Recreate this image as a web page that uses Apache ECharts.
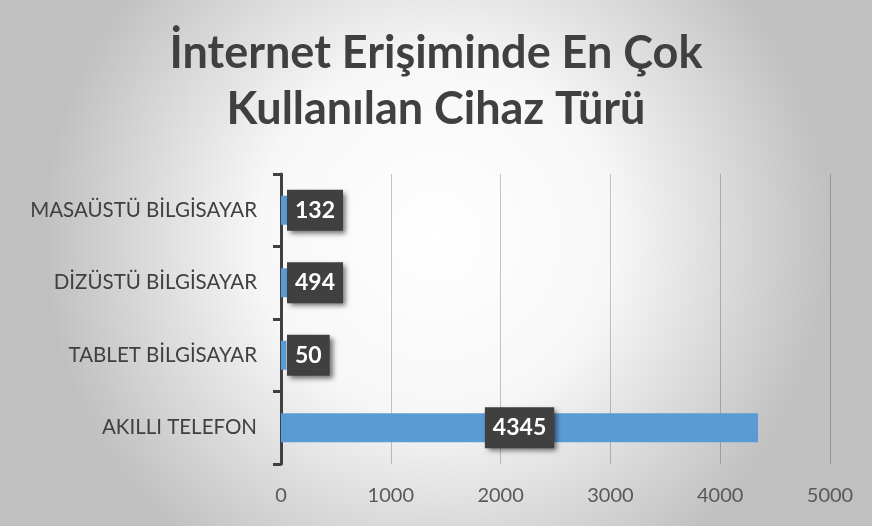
<!DOCTYPE html>
<html>
<head>
<meta charset="utf-8">
<script src="https://cdn.jsdelivr.net/npm/echarts@6/dist/echarts.min.js"></script>
<style>
  html, body { margin: 0; padding: 0; }
  #chart { width: 872px; height: 526px; }
</style>
</head>
<body>
<div id="chart"></div>
<script>
// data, bottom to top as drawn
var categories = ["AKILLI TELEFON", "TABLET BİLGİSAYAR", "DİZÜSTÜ BİLGİSAYAR", "MASAÜSTÜ BİLGİSAYAR"]
var values = [4345, 50, 494, 132]
var xTicks = [0, 1000, 2000, 3000, 4000, 5000]

var fontFam = "Lato, 'Open Sans', sans-serif"

function barData() {
    return values.map(function (v) {
        // small bars get their label at the base, the long one in the middle
        return {
            value: v,
            label: { position: v > 1000 ? "inside" : "insideLeft", distance: 6 }
        }
    })
}

var chart = echarts.init(document.getElementById("chart"))

chart.setOption({
    backgroundColor: {
        type: "radial", x: 0.5, y: 0.45, r: 0.75,
        colorStops: [
            { offset: 0, color: "#ffffff" },
            { offset: 0.45, color: "#f7f7f7" },
            { offset: 1, color: "#c0c0c0" }
        ]
    },
    title: {
        text: "İnternet Erişiminde En Çok\nKullanılan Cihaz Türü",
        left: "center",
        top: 20,
        padding: [5, 5, 5, 21],
        textStyle: {
            fontFamily: fontFam,
            fontSize: 45,
            fontWeight: "bold",
            color: "#404040",
            lineHeight: 56
        }
    },
    grid: { left: 281, right: 42, top: 174, bottom: 62 },
    xAxis: {
        type: "value",
        min: xTicks[0],
        max: xTicks[xTicks.length - 1],
        interval: 1000,
        axisLine: { show: false },
        axisTick: { show: false },
        axisLabel: {
            color: "#595959", fontSize: 20, fontFamily: fontFam, margin: 22,
            formatter: function (v) { return String(v) }
        },
        splitLine: { lineStyle: { color: "rgba(0,0,0,0.22)", width: 1 } }
    },
    yAxis: {
        type: "category",
        data: categories,
        axisLine: { lineStyle: { color: "#404040", width: 3 } },
        axisTick: { show: true, length: 8, lineStyle: { color: "#404040", width: 3 } },
        axisLabel: { color: "#404040", fontSize: 20.5, fontFamily: fontFam, margin: 24 }
    },
    series: [{
        type: "bar",
        data: barData(),
        barWidth: 29,
        itemStyle: { color: "#5b9bd5" },
        label: {
            show: true,
            color: "#ffffff",
            fontSize: 23,
            fontWeight: "bold",
            fontFamily: fontFam,
            backgroundColor: "#404040",
            padding: [10, 8, 8, 8],
            shadowColor: "rgba(0,0,0,0.55)",
            shadowBlur: 5,
            shadowOffsetX: 3,
            shadowOffsetY: 3
        }
    }]
})
</script>
</body>
</html>
